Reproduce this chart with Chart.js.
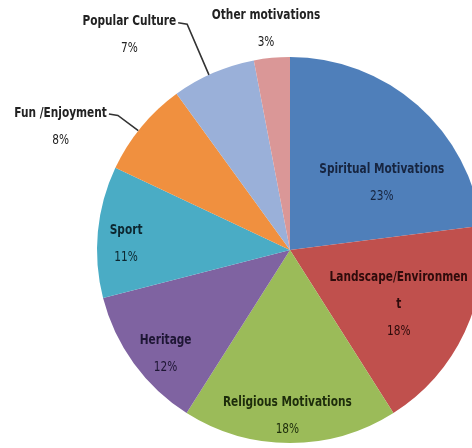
<!DOCTYPE html>
<html>
<head>
<meta charset="utf-8">
<script src="https://cdn.jsdelivr.net/npm/chart.js@4/dist/chart.umd.min.js"></script>
<style>
  html, body { margin: 0; padding: 0; background: #fff; overflow: hidden; }
  #wrap { position: relative; width: 580px; height: 448px; }
</style>
</head>
<body>
<div id="wrap"><canvas id="pie"></canvas></div>
<script>
// Motivation categories (a long one wraps onto two lines, as in the printed chart)
const categories = [
  'Spiritual Motivations',
  ['Landscape/Environmen', 't'],
  'Religious Motivations',
  'Heritage',
  'Sport',
  'Fun /Enjoyment',
  'Popular Culture',
  'Other motivations'
];
// Share of respondents, percent
const shares = [23, 18, 18, 12, 11, 8, 7, 3];
const sliceColors = ['#4F7FBA', '#C0504D', '#9BBB59', '#7F63A1', '#4AACC5', '#F0903F', '#9AB0D9', '#DA9797'];
const labelInk = ['#172540', '#2e0b0b', '#1d2c0b', '#1e1634', '#0d2730', '#222', '#222', '#222'];

// Label placement: [angle shift from slice middle (deg), distance as fraction of radius, leader line]
const labelPlacement = [
  [12.3, 0.59, false],
  [1.4, 0.63, false],
  [0.9, 0.86, false],
  [-3.9, 0.84, false],
  [-3.1, 0.85, false],
  [-11.3, 1.35, true],
  [-13.4, 1.39, true],
  [-0.8, 1.15, false]
];

const FONT_FAMILY = '"DejaVu Sans Condensed", "Liberation Sans Narrow", sans-serif';
const SQUEEZE = 0.84;   // horizontal condensing of label text

function narrowText(ctx, text, x, y) {
  ctx.save();
  ctx.translate(x, y);
  ctx.scale(SQUEEZE, 1);
  ctx.fillText(text, 0, 0);
  ctx.restore();
}

const sliceLabels = {
  id: 'sliceLabels',
  afterDatasetsDraw(chart) {
    const ctx = chart.ctx;
    const meta = chart.getDatasetMeta(0);
    const total = shares.reduce((a, b) => a + b, 0);
    const lineH = 27;
    meta.data.forEach((arc, i) => {
      const p = arc.getProps(['x', 'y', 'startAngle', 'endAngle', 'outerRadius'], true);
      const [shift, frac, leader] = labelPlacement[i];
      const mid = (p.startAngle + p.endAngle) / 2;
      const a = mid + shift * Math.PI / 180;
      const cx = p.x + Math.cos(a) * p.outerRadius * frac;
      const cy = p.y + Math.sin(a) * p.outerRadius * frac;
      const nameLines = Array.isArray(categories[i]) ? categories[i] : [categories[i]];
      const pct = Math.round(shares[i] / total * 100) + '%';
      const n = nameLines.length + 1;
      const top = cy - (n - 1) * lineH / 2;
      ctx.save();
      ctx.textAlign = 'center';
      ctx.textBaseline = 'middle';
      ctx.fillStyle = labelInk[i];
      ctx.font = 'bold 14px ' + FONT_FAMILY;
      nameLines.forEach((t, k) => narrowText(ctx, t, cx, top + k * lineH));
      ctx.font = '14px ' + FONT_FAMILY;
      narrowText(ctx, pct, cx, top + nameLines.length * lineH);
      if (leader) {
        ctx.font = 'bold 14px ' + FONT_FAMILY;
        const w = ctx.measureText(nameLines[0]).width * SQUEEZE;
        const sx = cx + w / 2 + 2;
        const sy = top + 1;
        const ex = p.x + Math.cos(mid - 0.025) * p.outerRadius;
        const ey = p.y + Math.sin(mid - 0.025) * p.outerRadius;
        ctx.strokeStyle = '#333';
        ctx.lineWidth = 1.6;
        ctx.beginPath();
        ctx.moveTo(sx, sy);
        ctx.lineTo(sx + 9, sy + 1.5);
        ctx.lineTo(ex, ey);
        ctx.stroke();
      }
      ctx.restore();
    });
  }
};

new Chart(document.getElementById('pie'), {
  type: 'pie',
  data: {
    labels: categories,
    datasets: [{
      data: shares,
      backgroundColor: sliceColors,
      borderWidth: 0
    }]
  },
  options: {
    responsive: true,
    maintainAspectRatio: false,
    animation: false,
    layout: { padding: { top: 57, bottom: 5, left: 0, right: 0 } },
    plugins: {
      legend: { display: false },
      tooltip: { enabled: false }
    }
  },
  plugins: [sliceLabels]
});
</script>
</body>
</html>
